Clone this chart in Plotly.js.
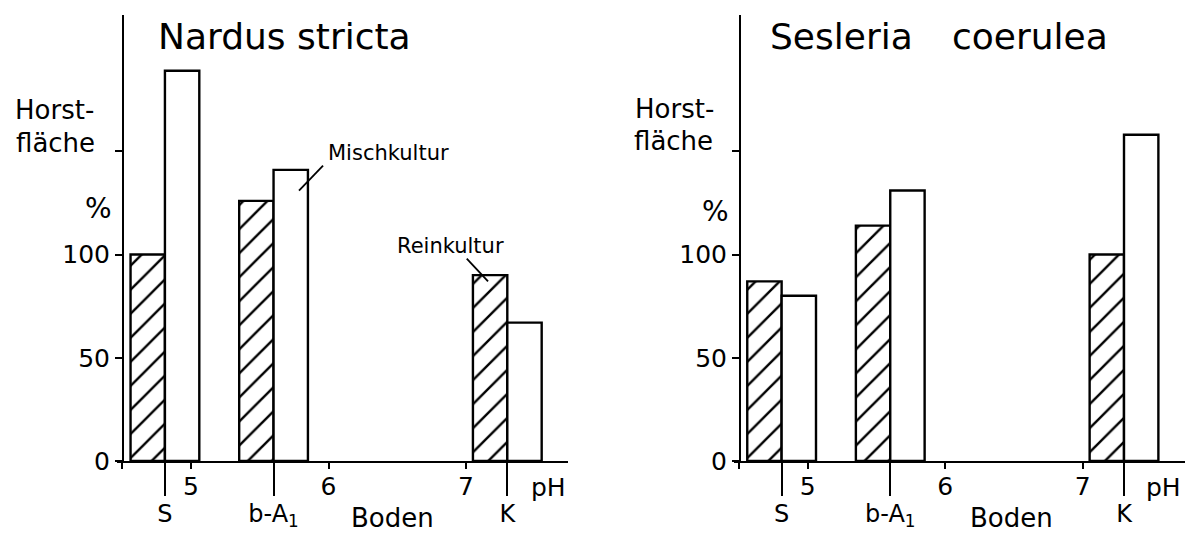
<!DOCTYPE html>
<html>
<head>
<meta charset="utf-8">
<script src="https://cdn.plot.ly/plotly-3.0.1.min.js"></script>
<style>html,body{margin:0;padding:0;background:#fff;}#chart{width:1189px;height:533px;}</style>
</head>
<body>
<div id="chart"></div>
<script>
// ---- data ----
const categories = ['S', 'b-A<sub>1</sub>', 'K'];
const soilPH = [4.81, 5.6, 7.3];
const nardusRein = [100, 126, 90];
const nardusMisch = [189, 141, 67];
const sesleriaRein = [87, 114, 100];
const sesleriaMisch = [80, 131, 158];
const pHTickVals = [5, 6, 7];
const pHTickText = ['5', '6', '7'];
const yTickVals = [0, 50, 100];
const yTickText = ['0', '50', '100'];
const yUnlabelledTicks = [150];
const xAxisStartTick = [4.5];

// ---- helpers ----
const W = 1189, H = 533;
const fx = p => p / W;
const fy = p => 1 - p / H;
const FONT = 'DejaVu Sans';
const BLACK = '#000';

const hatch = {shape: '/', fgcolor: BLACK, bgcolor: 'white', size: 17, solidity: 0.14};
const outline = {color: BLACK, width: 2.4};

function barPair(rein, misch, xa, ya) {
  return [
    {type: 'bar', x: soilPH, y: rein, xaxis: xa, yaxis: ya, width: 0.25, offset: -0.25,
     marker: {color: 'white', line: outline, pattern: hatch}, hoverinfo: 'skip'},
    {type: 'bar', x: soilPH, y: misch, xaxis: xa, yaxis: ya, width: 0.25, offset: 0,
     marker: {color: 'white', line: outline}, hoverinfo: 'skip'}
  ];
}

// empty traces so the overlaying soil axes get their subplots drawn
const soilAxisHolders = [
  {type: 'scatter', x: [], y: [], xaxis: 'x2', yaxis: 'y', hoverinfo: 'skip'},
  {type: 'scatter', x: [], y: [], xaxis: 'x4', yaxis: 'y2', hoverinfo: 'skip'}
];

const data = [].concat(
  barPair(nardusRein, nardusMisch, 'x', 'y'),
  barPair(sesleriaRein, sesleriaMisch, 'x3', 'y2'),
  soilAxisHolders
);

const xRange = [4.46, 7.74];
function phAxis(domain, anchor) {
  return {domain: domain, range: xRange, anchor: anchor, showline: true, linewidth: 2.2, linecolor: BLACK,
    ticks: 'outside', ticklen: 6, tickwidth: 2, tickcolor: BLACK, ticklabelstandoff: -4,
    tickmode: 'array', tickvals: pHTickVals, ticktext: pHTickText,
    minor: {tickmode: 'array', tickvals: xAxisStartTick, ticks: 'outside', ticklen: 6, tickwidth: 2.2, tickcolor: BLACK, showgrid: false},
    tickfont: {family: FONT, size: 25, color: BLACK},
    showgrid: false, zeroline: false, fixedrange: true};
}
function soilAxis(over, anchor) {
  return {overlaying: over, range: xRange, anchor: anchor, side: 'bottom', showline: false,
    ticks: 'outside', ticklen: 34, tickwidth: 2, tickcolor: BLACK, ticklabelstandoff: -3,
    tickmode: 'array', tickvals: soilPH, ticktext: categories,
    tickfont: {family: FONT, size: 24, color: BLACK},
    showgrid: false, zeroline: false, fixedrange: true};
}
function valAxis(pos) {
  return {domain: [fy(461), fy(15)], range: [0, 216], anchor: 'free', position: pos,
    showline: true, linewidth: 2.2, linecolor: BLACK,
    ticks: 'outside', ticklen: 7, tickwidth: 2, tickcolor: BLACK,
    tickmode: 'array', tickvals: yTickVals, ticktext: yTickText,
    minor: {tickmode: 'array', tickvals: yUnlabelledTicks, ticks: 'outside', ticklen: 7, tickwidth: 2, tickcolor: BLACK, showgrid: false},
    tickfont: {family: FONT, size: 25, color: BLACK},
    showgrid: false, zeroline: false, fixedrange: true};
}

function ann(text, x, y, size, xanchor) {
  return {text: text, xref: 'paper', yref: 'paper', x: fx(x), y: fy(y), xanchor: xanchor || 'center',
    yanchor: 'middle', showarrow: false, font: {family: FONT, size: size, color: BLACK}};
}

const annotations = [
  ann('Nardus stricta', 284, 37, 36),
  ann('Sesleria', 915, 37, 36, 'right'),
  ann('coerulea', 950, 37, 36, 'left'),
  ann('Horst-', 13, 110, 26, 'left'),
  ann('fläche', 14, 143, 26, 'left'),
  ann('%', 98, 209, 28),
  ann('Horst-', 633, 109, 26, 'left'),
  ann('fläche', 632, 141, 26, 'left'),
  ann('%', 715, 211, 28),
  ann('Mischkultur', 326, 153, 21, 'left'),
  ann('Reinkultur', 395, 246, 21, 'left'),
  ann('pH', 548, 487, 25),
  ann('pH', 1163, 487, 25),
  ann('Boden', 392, 518, 26),
  ann('Boden', 1011, 518, 26)
];

const shapes = [
  {type: 'line', xref: 'x', yref: 'y', x0: 5.96, y0: 143, x1: 5.785, y1: 131, line: {color: BLACK, width: 1.8}},
  {type: 'line', xref: 'x', yref: 'y', x0: 7.005, y0: 98, x1: 7.16, y1: 87, line: {color: BLACK, width: 1.8}}
];

const layout = {
  width: W, height: H, margin: {l: 0, r: 0, t: 0, b: 0},
  paper_bgcolor: 'white', plot_bgcolor: 'rgba(0,0,0,0)',
  showlegend: false, barmode: 'overlay',
  font: {family: FONT, color: BLACK},
  xaxis: phAxis([fx(116.8), fx(567.8)], 'y'),
  xaxis2: soilAxis('x', 'y'),
  yaxis: valAxis(fx(123)),
  xaxis3: phAxis([fx(733.5), fx(1184.5)], 'y2'),
  xaxis4: soilAxis('x3', 'y2'),
  yaxis2: valAxis(fx(740)),
  annotations: annotations,
  shapes: shapes
};

Plotly.newPlot('chart', data, layout, {staticPlot: true, displayModeBar: false});
</script>
</body>
</html>
